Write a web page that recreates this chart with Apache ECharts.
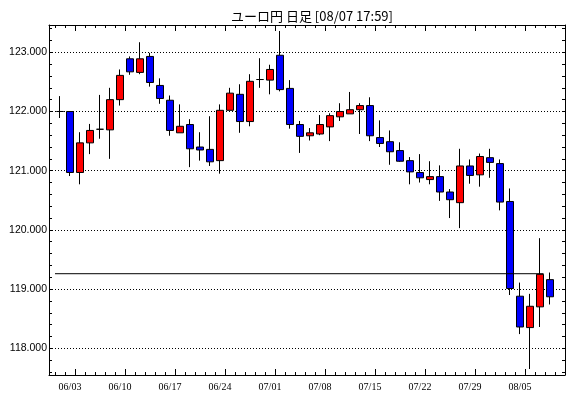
<!DOCTYPE html>
<html><head><meta charset="utf-8">
<script src="https://cdn.jsdelivr.net/npm/echarts@6/dist/echarts.min.js"></script>
<style>html,body{margin:0;padding:0;background:#fff}#c{width:570px;height:398px}</style>
</head><body><div id="c"></div>
<script>
const titleText = 'ユーロ円 日足 [08/07 17:59]';
const dates = ['05/30','05/31',
  '06/03','06/04','06/05','06/06','06/07',
  '06/10','06/11','06/12','06/13','06/14',
  '06/17','06/18','06/19','06/20','06/21',
  '06/24','06/25','06/26','06/27','06/28',
  '07/01','07/02','07/03','07/04','07/05',
  '07/08','07/09','07/10','07/11','07/12',
  '07/15','07/16','07/17','07/18','07/19',
  '07/22','07/23','07/24','07/25','07/26',
  '07/29','07/30','07/31','08/01','08/02',
  '08/05','08/06','08/07'];
const opens = [122.00,122.00,
  120.97,121.47,121.70,121.69,122.20,
  122.89,122.66,122.93,122.44,122.19,
  121.64,121.78,121.40,121.36,121.17,
  122.02,122.29,121.83,122.54,122.53,
  122.95,122.39,121.78,121.59,121.62,
  121.74,121.91,121.96,122.03,122.10,
  121.56,121.49,121.34,121.17,120.97,
  120.85,120.90,120.64,120.46,121.08,
  120.93,121.22,121.12,120.48,118.88,
  118.35,118.70,119.16];
const closes = [122.00,120.97,
  121.47,121.68,121.70,122.20,122.61,
  122.67,122.89,122.49,122.22,121.68,
  121.75,121.37,121.35,121.15,122.02,
  122.31,121.83,122.51,122.54,122.71,
  122.37,121.78,121.58,121.64,121.78,
  121.93,122.00,122.03,122.10,121.59,
  121.46,121.32,121.16,120.98,120.88,
  120.90,120.64,120.51,121.08,120.92,
  121.24,121.14,120.47,119.01,118.36,
  118.71,119.25,118.87];
const lows = [121.89,120.91,
  120.77,121.28,121.54,121.20,122.10,
  122.62,122.63,122.42,122.13,121.59,
  121.64,121.06,121.17,121.08,120.95,
  122.02,121.64,121.75,122.40,122.29,
  122.34,121.71,121.30,121.51,121.60,
  121.50,121.84,121.96,121.62,121.50,
  121.40,121.10,121.15,120.77,120.80,
  120.77,120.49,120.20,120.03,120.78,
  120.73,120.88,120.33,118.90,118.24,
  117.65,118.36,118.74];
const highs = [122.26,122.00,
  121.65,121.79,122.28,122.40,122.71,
  122.93,123.17,122.99,122.56,122.27,
  122.12,121.87,121.65,121.92,122.12,
  122.40,122.46,122.63,122.90,122.79,
  123.36,122.53,121.84,121.72,121.94,
  121.97,122.14,122.33,122.14,122.24,
  121.85,121.68,121.48,121.23,121.28,
  121.16,121.09,120.69,121.37,121.19,
  121.29,121.37,121.19,120.70,119.11,
  118.92,119.86,119.28];
const weekLabels = ['06/03','06/10','06/17','06/24','07/01','07/08','07/15','07/22','07/29','08/05'];
const yLabelValues = [118,119,120,121,122,123];
const yTickValues = [117.6,117.8,118.0,118.2,118.4,118.6,118.8,119.0,119.2,119.4,119.6,119.8,
  120.0,120.2,120.4,120.6,120.8,121.0,121.2,121.4,121.6,121.8,122.0,122.2,122.4,122.6,122.8,
  123.0,123.2,123.4];
const yMin = 117.549, yMax = 123.461;
const refLevel = 119.26;
const refLineStart = 0, refLineEnd = 48.85;

const candleData = dates.map((d, i) => [opens[i], closes[i], lows[i], highs[i]]);
const majorBounds = weekLabels.map(l => dates.indexOf(l));

const hiddenY = (grid, pos) => ({gridIndex: grid, type: 'value', min: yMin, max: yMax, position: pos, show: false});
const frameX = (pos) => ({gridIndex: 0, type: 'value', min: 0, max: 1, position: pos,
  axisLine: {show: true, onZero: false, lineStyle: {color: '#000', width: 1}},
  axisTick: {show: false}, axisLabel: {show: false}, splitLine: {show: false}});

const chart = echarts.init(document.getElementById('c'), null, {renderer: 'canvas'});
chart.setOption({
  animation: false,
  backgroundColor: '#fff',
  title: {text: titleText, left: 307, textAlign: 'center', top: 5,
    textStyle: {fontSize: 13, fontWeight: 'normal', fontFamily: 'Noto Sans CJK JP', color: '#000'}},
  grid: [
    {left: 49, right: 5, top: 25, bottom: 23},
    {left: 55, right: 15, top: 25, bottom: 23}
  ],
  xAxis: [
    frameX('bottom'),
    frameX('top'),
    {gridIndex: 1, type: 'category', data: dates, boundaryGap: true, position: 'bottom',
      axisLine: {show: false, onZero: false},
      axisTick: {show: true, inside: true, length: 3, interval: 0, lineStyle: {color: '#000'}},
      axisLabel: {interval: (i, v) => weekLabels.includes(v), margin: 7, padding: [0, 20, 0, 0],
        fontFamily: 'Liberation Sans Narrow', fontSize: 10, color: '#000'},
      splitLine: {show: false}},
    {gridIndex: 1, type: 'category', data: dates, boundaryGap: true, position: 'top',
      axisLine: {show: false, onZero: false},
      axisTick: {show: true, inside: true, length: 3, interval: 0, lineStyle: {color: '#000'}},
      axisLabel: {show: false}, splitLine: {show: false}},
    {gridIndex: 1, type: 'value', min: 0, max: dates.length, position: 'bottom',
      axisLine: {show: false, onZero: false},
      axisTick: {show: true, inside: true, length: 6, customValues: majorBounds, lineStyle: {color: '#000'}},
      axisLabel: {show: false}, splitLine: {show: false}},
    {gridIndex: 1, type: 'value', min: 0, max: dates.length, position: 'top',
      axisLine: {show: false, onZero: false},
      axisTick: {show: true, inside: true, length: 6, customValues: majorBounds, lineStyle: {color: '#000'}},
      axisLabel: {show: false}, splitLine: {show: false}}
  ],
  yAxis: [
    {gridIndex: 0, type: 'value', min: yMin, max: yMax, position: 'left',
      axisLine: {show: true, onZero: false, lineStyle: {color: '#000', width: 1}},
      axisTick: {show: true, inside: true, length: 3, customValues: yTickValues, lineStyle: {color: '#000'}},
      axisLabel: {customValues: yLabelValues, formatter: v => Number(v).toFixed(3), margin: 2,
        fontFamily: 'Liberation Sans', fontSize: 10.5, color: '#000'},
      splitLine: {show: false}},
    {gridIndex: 0, type: 'value', min: yMin, max: yMax, position: 'right',
      axisLine: {show: true, onZero: false, lineStyle: {color: '#000', width: 1}},
      axisTick: {show: true, inside: true, length: 3, customValues: yTickValues, lineStyle: {color: '#000'}},
      axisLabel: {show: false}, splitLine: {show: false}},
    {gridIndex: 0, type: 'value', min: yMin, max: yMax, position: 'left',
      axisLine: {show: false, onZero: false},
      axisTick: {show: false, customValues: yLabelValues},
      axisLabel: {show: false},
      splitLine: {show: true, lineStyle: {color: '#000', width: 1, type: [1, 2]}}},
    hiddenY(1, 'left')
  ],
  series: [
    {type: 'candlestick', xAxisIndex: 2, yAxisIndex: 3, data: candleData, barWidth: 7,
      silent: true,
      itemStyle: {color: '#ff0000', color0: '#0000ff', borderColor: '#000', borderColor0: '#000',
        borderColorDoji: '#000', borderWidth: 1}},
    {type: 'line', xAxisIndex: 4, yAxisIndex: 3, symbol: 'none', silent: true,
      data: [[refLineStart, refLevel], [refLineEnd, refLevel]],
      lineStyle: {color: '#000', width: 1}}
  ]
});
</script></body></html>
